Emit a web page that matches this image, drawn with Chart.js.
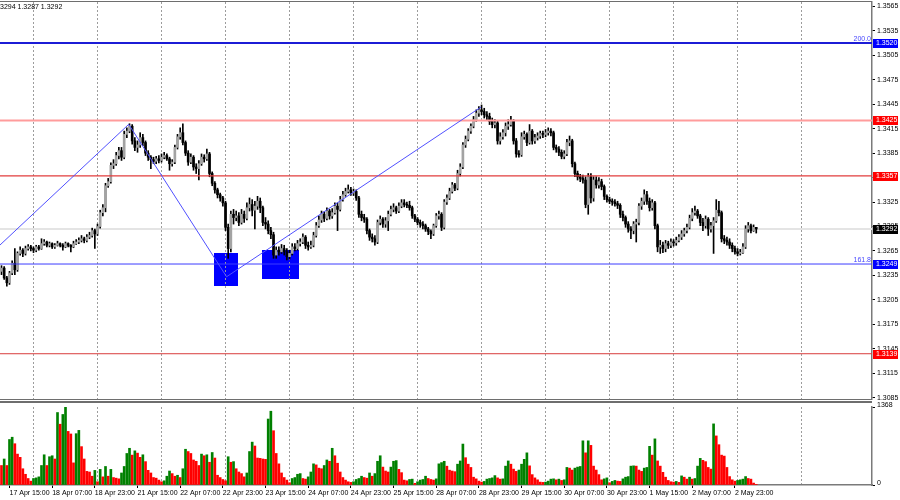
<!DOCTYPE html>
<html>
<head>
<meta charset="utf-8">
<script src="https://cdn.jsdelivr.net/npm/chart.js@4.4.1/dist/chart.umd.min.js"></script>
<style>
  html, body { margin: 0; padding: 0; background: #fff; }
  #wrap { position: relative; width: 900px; height: 500px; overflow: hidden; background: #fff; }
  #price { position: absolute; left: 0; top: 0; }
  #vol { position: absolute; left: 0; top: 400px; }
</style>
</head>
<body>
<div id="wrap">
  <canvas id="price" width="900" height="400"></canvas>
  <canvas id="vol" width="900" height="100"></canvas>
</div>
<script>
// --- Data: H1 candles, prices in pips above 1.3000 ---
const BASE = 1.3;
const firstOpen = 240;

const closes = [
  244,232,226,238,250,242,262,266,262,268, 270,268,266,270,268,274,276,272,274,270,
  272,274,272,270,274,272,270,274,276,278, 280,278,282,284,290,286,295,312,318,345,
  350,370,372,382,388,380,408,412,418,400, 392,395,404,398,385,380,377,375,378,376,
  380,382,378,372,374,392,405,410,398,385, 374,380,368,366,372,380,378,384,360,348,
  340,334,330,324,294,268,310,306,308,300, 310,305,318,322,315,320,326,318,300,298,
  290,285,260,266,264,268,264,258,262,270, 268,274,276,282,272,270,272,284,296,303,
  310,305,314,308,312,320,316,328,334,338, 340,336,338,330,310,306,304,290,282,280,
  276,300,304,298,302,310,316,318,314,320, 324,322,321,318,308,304,300,298,296,292,
  289,286,296,308,310,294,325,330,338,346, 342,360,368,395,402,412,418,426,434,438,
  436,432,430,424,420,422,400,405,410,418, 420,424,400,384,383,405,408,398,412,400,
  404,406,409,408,410,412,410,392,390,386, 381,384,398,400,372,360,356,354,352,322,
  356,330,352,346,350,344,332,328,326,325, 323,321,310,306,298,292,290,298,300,320,
  326,334,326,318,324,296,270,272,268,274, 272,276,275,278,282,286,290,294,305,312,
  314,308,300,296,304,292,296,302,315,312, 280,278,276,272,268,264,262,263,270,292,
  296,290,294,292
];
const highs = [
  247,246,234,240,253,268,264,270,268,271, 273,272,270,272,272,280,279,277,276,275,
  274,277,275,274,276,275,273,277,279,281, 284,282,285,288,293,292,298,315,322,348,
  354,373,377,386,392,392,412,416,421,420, 404,400,410,408,400,388,382,380,381,382,
  384,386,384,380,377,395,408,416,421,400, 388,384,382,372,376,384,383,390,386,362,
  350,342,336,332,326,298,314,316,314,312, 316,314,324,330,328,326,332,330,320,306,
  302,294,288,270,270,273,272,268,266,274, 274,278,280,286,284,276,277,288,300,308,
  314,313,318,316,317,324,324,332,338,342, 346,343,341,340,332,314,310,306,292,286,
  284,303,308,306,306,314,320,323,320,324, 328,328,325,326,320,310,306,303,301,298,
  294,291,298,311,314,312,328,334,342,349, 348,364,372,398,406,415,421,430,438,442,
  444,440,436,434,428,426,424,410,414,422, 426,430,426,403,388,410,412,410,420,414,
  408,410,412,412,414,416,415,412,395,393, 389,388,402,406,402,374,363,359,358,356,
  360,360,356,356,355,353,346,334,331,329, 328,326,323,314,308,301,295,301,304,323,
  330,340,338,330,328,326,298,278,276,278, 277,280,279,282,285,290,293,298,309,317,
  320,316,310,305,308,306,300,306,328,326, 314,284,282,280,275,271,268,267,274,296,
  300,298,297,294
];
const lows = [
  236,230,222,224,236,236,240,260,258,260, 266,265,263,264,266,267,272,270,270,268,
  268,271,270,266,269,270,264,269,273,274, 276,275,276,280,282,268,284,293,308,313,
  343,348,366,370,378,376,378,404,410,396, 388,386,392,394,382,376,366,372,372,373,
  374,378,376,364,369,372,390,402,395,382, 370,372,364,360,352,370,374,376,356,345,
  336,330,326,320,290,256,264,298,302,296, 298,300,303,314,308,292,316,312,296,292,
  286,280,256,256,260,262,260,254,255,260, 265,266,271,274,268,266,268,270,282,294,
  300,301,303,304,305,310,290,314,326,332, 336,333,333,327,306,302,300,286,278,276,
  272,274,297,294,294,290,308,313,311,312, 318,319,318,315,305,301,297,294,292,289,
  285,280,284,294,304,290,292,322,328,336, 339,340,357,366,392,400,409,416,424,430,
  432,428,426,420,416,416,396,396,402,406, 414,418,396,380,380,381,402,394,396,396,
  397,401,403,404,405,407,406,389,386,382, 378,378,382,394,368,356,352,350,348,318,
  310,324,326,342,342,340,328,325,323,321, 320,317,306,302,294,288,280,286,276,297,
  316,322,322,314,315,292,264,262,263,264, 268,269,271,272,276,279,283,287,292,302,
  309,305,296,290,293,284,288,262,300,308, 276,274,272,268,264,261,259,260,262,268,
  288,287,289,287
];
const volumes = [
  342,456,342,798,838,724,542,485,285,188, 114,68,114,125,143,342,530,342,496,513,
  456,1271,1066,1237,1368,940,895,388,900,958, 673,456,239,228,154,256,57,274,143,325,
  154,274,131,120,108,211,325,553,644,524, 599,559,485,530,410,257,211,131,120,86,
  57,74,154,245,200,154,171,131,285,627, 587,553,439,416,342,542,513,530,399,570,
  473,171,131,97,74,496,399,410,285,228, 200,143,211,587,752,684,473,467,456,450,
  1157,1294,952,553,371,211,131,86,40,114, 131,188,200,114,103,143,228,371,353,296,
  285,342,439,416,644,513,382,228,131,86, 57,46,57,97,114,154,131,120,211,154,
  200,416,513,314,245,228,314,416,428,274, 217,86,74,97,103,29,57,86,97,154,
  114,97,86,108,371,393,416,330,260,245, 234,365,422,718,479,365,308,137,108,68,
  51,63,103,114,125,165,125,103,108,331, 422,365,279,239,262,365,450,564,336,182,
  125,91,51,46,51,68,103,108,91,103, 80,91,308,296,262,296,314,325,775,564,
  775,695,331,262,182,91,108,125,40,63, 80,68,63,108,137,148,331,336,331,262,
  239,296,308,678,524,809,422,331,222,137, 80,57,51,63,46,160,137,103,137,103,
  114,331,467,433,410,308,279,1072,861,707, 524,507,308,148,91,68,80,91,103,148,
  114,103,34,11
];
const volumeMax = 1368;

// time axis
const timeLabels = ['17 Apr 15:00','18 Apr 07:00','18 Apr 23:00','21 Apr 15:00','22 Apr 07:00',
  '22 Apr 23:00','23 Apr 15:00','24 Apr 07:00','24 Apr 23:00','25 Apr 15:00','28 Apr 07:00',
  '28 Apr 23:00','29 Apr 15:00','30 Apr 07:00','30 Apr 23:00','1 May 15:00','2 May 07:00','2 May 23:00'];
const labelBars = [3,19,35,51,67,83,99,115,131,147,163,179,195,211,227,243,259,275];
const dayBars = [12,36,60,84,108,132,156,180,204,228,252,276,300];

// price axis
const priceTicks = [1.3085,1.3115,1.3145,1.3175,1.3205,1.3235,1.3265,1.3295,1.3325,1.3355,
  1.3385,1.3415,1.3445,1.3475,1.3505,1.3535,1.3565];
const levelPrices = [1.3520, 1.3425, 1.3357, 1.3249, 1.3139];
const bidPrice = 1.3292;
const fiboLabels = ['200.0', '161.8'];
const fiboPrices = [1.3520, 1.3249];

// drawn objects (bar index / price)
const zigzagBars = [-0.56, 47.7, 84.4, 179.8];
const zigzagPrices = [1.32723, 1.34203, 1.32334, 1.34415];
const zoneBars = [[79.7, 88.7], [97.8, 111.6]];
const zonePrices = [[1.32220, 1.32625], [1.32306, 1.32662]];

// --- view range ---
const xMin = -0.5625, xMax = 326.4;
const yMin = 1.30835, yMax = 1.35703;

const FONT = 'Liberation Sans';
const levelColors = ['#1c1cd6', '#ff9c9c', '#e23c3c', '#3c3cff', '#d83c3c'];
const levelWidths = [2, 2, 1.2, 1, 1];
const boxColors = ['#0000ff', '#ff0000', '#ff0000', '#0000ff', '#ff0000'];

const px = p => BASE + p / 10000;
const bars = closes.map((c, i) => i);
const opens = closes.map((c, i) => i === 0 ? firstOpen : closes[i - 1]);

const wickData = bars.map(i => ({ x: i, y: [px(lows[i]), px(highs[i])] }));
const bodyData = bars.map(i => ({ x: i, y: [px(opens[i]), px(closes[i])] }));
const bodyColors = bars.map(i => closes[i] >= opens[i] ? '#a3a3a3' : '#000000');

const lineSet = (price, color, width, order) => ({
  type: 'line',
  data: [{ x: xMin, y: price }, { x: xMax, y: price }],
  borderColor: color,
  borderWidth: width,
  pointRadius: 0,
  order: order
});

const datasets = [
  lineSet(bidPrice, '#e4e4e4', 2, 9),
  { type: 'bar', data: wickData, backgroundColor: '#000', barThickness: 1, grouped: false, order: 8 },
  { type: 'bar', data: bodyData, backgroundColor: bodyColors, barThickness: 2, minBarLength: 1, grouped: false, order: 7 }
];
levelPrices.forEach((p, k) => datasets.push(lineSet(p, levelColors[k], levelWidths[k], 3)));
datasets.push({
  type: 'line',
  data: zigzagBars.map((b, k) => ({ x: b, y: zigzagPrices[k] })),
  borderColor: '#5050ff',
  borderWidth: 1,
  pointRadius: 0,
  order: 1
});

// --- plugins ---
const zonesPlugin = {
  id: 'zones',
  beforeDraw(chart) {
    const { ctx, scales: { x, y } } = chart;
    ctx.save();
    ctx.fillStyle = '#0000ff';
    zoneBars.forEach((b, k) => {
      const x0 = x.getPixelForValue(b[0]), x1 = x.getPixelForValue(b[1]);
      const y0 = y.getPixelForValue(zonePrices[k][1]), y1 = y.getPixelForValue(zonePrices[k][0]);
      ctx.fillRect(Math.round(x0), Math.round(y0), Math.round(x1 - x0), Math.round(y1 - y0));
    });
    ctx.restore();
  }
};

function priceBox(ctx, yPix, left, text, color) {
  ctx.fillStyle = color;
  ctx.fillRect(left + 1, Math.round(yPix) - 4, 25, 9);
  ctx.fillStyle = '#fff';
  ctx.textAlign = 'left';
  ctx.textBaseline = 'middle';
  ctx.fillText(text, left + 4, Math.round(yPix) + 0.5);
}

const overlayPlugin = {
  id: 'overlay',
  afterDraw(chart) {
    const { ctx, chartArea: a, scales: { y } } = chart;
    ctx.save();
    // frame
    ctx.strokeStyle = '#6e6e6e';
    ctx.lineWidth = 1;
    ctx.beginPath();
    ctx.moveTo(0, a.top - 0.5); ctx.lineTo(a.right, a.top - 0.5);
    ctx.moveTo(0, a.bottom + 0.5); ctx.lineTo(a.right, a.bottom + 0.5);
    ctx.stroke();
    // fibo texts
    ctx.font = '7px "' + FONT + '"';
    ctx.fillStyle = '#4848ff';
    ctx.textAlign = 'right';
    ctx.textBaseline = 'bottom';
    fiboLabels.forEach((t, k) => ctx.fillText(t, a.right - 1, y.getPixelForValue(fiboPrices[k]) - 0.5));
    // price boxes on axis
    levelPrices.forEach((p, k) => priceBox(ctx, y.getPixelForValue(p), a.right, p.toFixed(4), boxColors[k]));
    priceBox(ctx, y.getPixelForValue(bidPrice), a.right, bidPrice.toFixed(4), '#000');
    // header
    ctx.fillStyle = '#000';
    ctx.textAlign = 'left';
    ctx.textBaseline = 'middle';
    ctx.fillText('3294 1.3287 1.3292', 0, 7);
    ctx.restore();
  }
};

const volFramePlugin = {
  id: 'volFrame',
  afterDraw(chart) {
    const { ctx, chartArea: a } = chart;
    ctx.save();
    ctx.strokeStyle = '#6e6e6e';
    ctx.lineWidth = 2;
    ctx.beginPath();
    ctx.moveTo(0, 2); ctx.lineTo(a.right, 2);
    ctx.stroke();
    ctx.restore();
  }
};

const gridAxis = {
  type: 'linear',
  position: 'bottom',
  min: xMin,
  max: xMax,
  offset: false,
  afterBuildTicks: s => { s.ticks = dayBars.map(v => ({ value: v })); },
  afterFit: s => { s.height = 0; s.paddingLeft = 0; s.paddingRight = 0; },
  ticks: { display: false },
  grid: { color: '#9c9c9c', drawTicks: false, offset: false, lineWidth: 1 },
  border: { display: false, dash: [2, 2] }
};

// --- Price chart ---
new Chart(document.getElementById('price'), {
  type: 'bar',
  data: { datasets: datasets },
  options: {
    responsive: false,
    animation: false,
    devicePixelRatio: 1,
    layout: { padding: { top: 2, bottom: 1, left: 0, right: 0 } },
    plugins: { legend: { display: false }, tooltip: { enabled: false } },
    scales: {
      x: gridAxis,
      y: {
        type: 'linear',
        position: 'right',
        min: yMin,
        max: yMax,
        afterBuildTicks: s => { s.ticks = priceTicks.map(v => ({ value: v })); },
        afterFit: s => { s.width = 28; s.paddingTop = 0; s.paddingBottom = 0; },
        ticks: {
          autoSkip: false,
          padding: 2,
          color: '#000',
          font: { family: FONT, size: 7 },
          callback: v => v.toFixed(4)
        },
        grid: { drawOnChartArea: false, tickLength: 3, color: '#000' },
        border: { display: true, color: '#7a7a7a', width: 1.5 }
      }
    }
  },
  plugins: [zonesPlugin, overlayPlugin]
});

// --- Volume chart ---
const volColors = volumes.map((v, i) => i > 0 && v > volumes[i - 1] ? '#008000' : '#ff0000');

new Chart(document.getElementById('vol'), {
  type: 'bar',
  data: {
    datasets: [{
      data: bars.map(i => ({ x: i, y: volumes[i] })),
      backgroundColor: volColors,
      barThickness: 2,
      grouped: false
    }]
  },
  options: {
    responsive: false,
    animation: false,
    devicePixelRatio: 1,
    layout: { padding: { top: 7, bottom: 1, left: 0, right: 0 } },
    plugins: { legend: { display: false }, tooltip: { enabled: false } },
    scales: {
      x: gridAxis,
      xl: {
        type: 'linear',
        position: 'bottom',
        min: xMin,
        max: xMax,
        offset: false,
        afterBuildTicks: s => { s.ticks = labelBars.map(v => ({ value: v })); },
        afterFit: s => { s.height = 14; s.paddingLeft = 0; s.paddingRight = 0; },
        ticks: {
          align: 'start',
          autoSkip: false,
          maxRotation: 0,
          padding: 1,
          color: '#000',
          font: { family: FONT, size: 7 },
          callback: (v, idx) => timeLabels[idx]
        },
        grid: { drawOnChartArea: false, tickLength: 3, color: '#000', offset: false },
        border: { display: true, color: '#7a7a7a', width: 1.5 }
      },
      y: {
        type: 'linear',
        position: 'right',
        min: 0,
        max: volumeMax,
        afterBuildTicks: s => { s.ticks = [{ value: 0 }, { value: volumeMax }]; },
        afterFit: s => { s.width = 28; s.paddingTop = 0; s.paddingBottom = 0; },
        ticks: {
          autoSkip: false,
          padding: 2,
          labelOffset: -2,
          color: '#000',
          font: { family: FONT, size: 7 },
          callback: v => String(v)
        },
        grid: { drawOnChartArea: false, tickLength: 3, color: '#000' },
        border: { display: true, color: '#7a7a7a', width: 1.5 }
      }
    }
  },
  plugins: [volFramePlugin]
});
</script>
</body>
</html>
